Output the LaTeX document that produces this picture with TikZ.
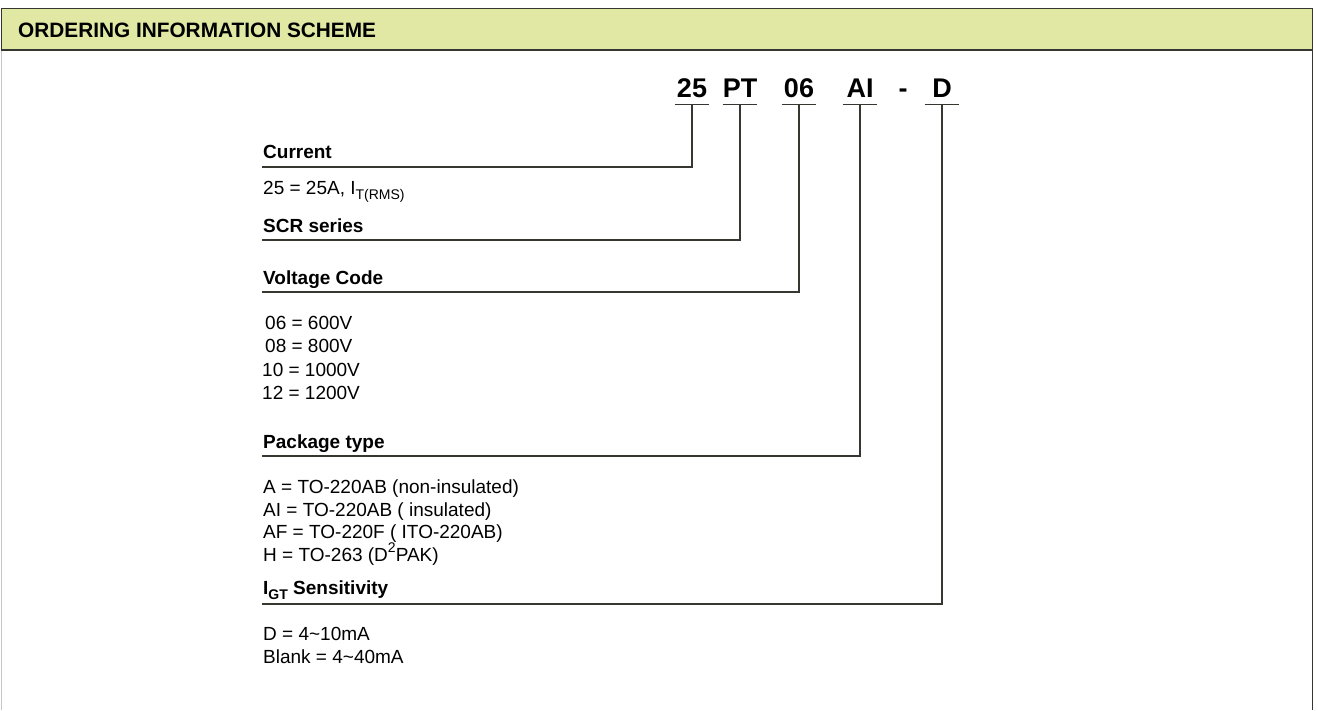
\documentclass[tikz,border=0pt]{standalone}
\usepackage{fontspec}
\setmainfont{Liberation Sans}
\usetikzlibrary{positioning}
\definecolor{headfill}{RGB}{224,232,164}
\definecolor{rulegray}{RGB}{55,55,50}
\newcommand{\subtxt}[1]{\raisebox{-0.3em}{\fontsize{14}{14}\selectfont #1}}
\newcommand{\suptxt}[1]{\raisebox{0.45em}{\fontsize{14}{14}\selectfont #1}}
\tikzset{
  titletext/.style={font=\fontsize{20.8}{21}\selectfont\bfseries, anchor=base west, inner sep=0pt},
  codebox/.style={font=\fontsize{27}{27}\selectfont\bfseries, anchor=base, inner xsep=0pt, inner ysep=7pt, text depth=0pt, minimum width=34pt},
  headtext/.style={font=\fontsize{19}{19}\selectfont\bfseries, anchor=base west, inner sep=0pt},
  bodytext/.style={font=\fontsize{19}{19}\selectfont, anchor=base west, inner sep=0pt},
  leader/.style={draw=rulegray, line width=1.1pt},
}
\begin{document}
\begin{tikzpicture}[x=1pt,y=-1pt]
\useasboundingbox (0,0) rectangle (1318,710);
% frame and header band
\fill[headfill] (1,8) rectangle (1312,50);
\draw[gray!45, line width=1pt] (1,50) -- (1,710);
\draw[rulegray, line width=1pt] (1,50) -- (1,8) -- (1312,8) -- (1312,710);
\draw[rulegray, line width=1.8pt] (1,50) -- (1312,50);
\node[titletext] (title) at (18,37) {ORDERING INFORMATION SCHEME};
% part number
\node[codebox] (c25) at (692,97) {25};
\node[codebox] (cPT) at (740,97) {PT};
\node[codebox] (c06) at (799,97) {06};
\node[codebox] (cAI) at (860,97) {AI};
\node[codebox, minimum width=0pt] (cDash) at (903,97) {-};
\node[codebox] (cD) at (942,97) {D};
\foreach \c in {c25,cPT,c06,cAI,cD}
  \draw[leader] (\c.south west) -- (\c.south east);
% current
\node[headtext] (hCur) at (263,158) {Current};
\coordinate (lCur) at (262,167);
\draw[leader] (lCur) -| (c25.south);
\node[bodytext] (vCur) at (263,194) {25 = 25A, I\subtxt{T(RMS)}};
% series
\node[headtext] (hSer) at (263,232) {SCR series};
\coordinate (lSer) at (262,240);
\draw[leader] (lSer) -| (cPT.south);
% voltage
\node[headtext] (hVolt) at (263,284) {Voltage Code};
\coordinate (lVolt) at (262,292);
\draw[leader] (lVolt) -| (c06.south);
\node[bodytext] (v06) at (265,329) {06 = 600V};
\node[bodytext] (v08) at (265,352) {08 = 800V};
\node[bodytext] (v10) at (262,376) {10 = 1000V};
\node[bodytext] (v12) at (262,399) {12 = 1200V};
% package
\node[headtext] (hPack) at (263,448) {Package type};
\coordinate (lPack) at (262,456);
\draw[leader] (lPack) -| (cAI.south);
\node[bodytext] (pA) at (263,493) {A = TO-220AB (non-insulated)};
\node[bodytext] (pAI) at (263,516) {AI = TO-220AB ( insulated)};
\node[bodytext] (pAF) at (263,538) {AF = TO-220F ( ITO-220AB)};
\node[bodytext] (pH) at (263,561) {H = TO-263 (D\suptxt{2}PAK)};
% sensitivity
\node[headtext] (hSens) at (263,594) {I\subtxt{\bfseries GT} Sensitivity};
\coordinate (lSens) at (262,604);
\draw[leader] (lSens) -| (cD.south);
\node[bodytext] (sD) at (263,640) {D = 4\textasciitilde10mA};
\node[bodytext] (sBl) at (263,663) {Blank = 4\textasciitilde40mA};
\end{tikzpicture}
\end{document}
